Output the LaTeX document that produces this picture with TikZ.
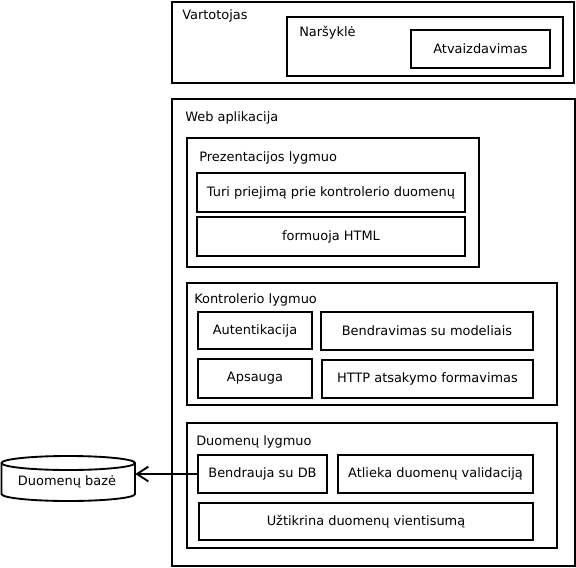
\documentclass[tikz,border=0pt]{standalone}
\usepackage{fontspec}
\setmainfont{DejaVu Sans}
\usetikzlibrary{fit,arrows.meta}
\begin{document}
\begin{tikzpicture}[x=0.75pt,y=-0.75pt,
  every node/.style={font=\fontsize{9.7}{11}\selectfont, inner sep=0pt},
  frame/.style={draw, line width=1.4pt, inner sep=0pt},
  cell/.style={frame, label={center:#1}},
  caption/.style={anchor=west},
  link/.style={line width=1.4pt, -{Straight Barb[length=8.5pt,width=11pt]}}]
\useasboundingbox (0,0) rectangle (576,568);

% user side
\node[frame, fit={(172,2)(574,83)}] (user) {};
\node[caption] (userlbl) at (182,16) {Vartotojas};
\node[frame, fit={(287,17)(563,76)}] (browser) {};
\node[caption] (browserlbl) at (299,33) {Naršyklė};
\node[cell=Atvaizdavimas, fit={(411,30)(550,68)}] (render) {};

% web application
\node[frame, fit={(172,99)(575,566)}] (webapp) {};
\node[caption] (webapplbl) at (185,118) {Web aplikacija};

% presentation layer
\node[frame, fit={(187,138)(479,267)}] (pres) {};
\node[caption] (preslbl) at (199,158) {Prezentacijos lygmuo};
\node[cell={Turi priejimą prie kontrolerio duomenų}, fit={(197,173)(465,212)}] (access) {};
\node[cell={formuoja HTML}, fit={(197,217)(465,256)}] (html) {};

% controller layer
\node[frame, fit={(187,283)(557,405)}] (ctrl) {};
\node[caption] (ctrllbl) at (194,300) {Kontrolerio lygmuo};
\node[cell=Autentikacija, fit={(198,312)(312,349)}] (auth) {};
\node[cell={Bendravimas su modeliais}, fit={(321,312)(533,350)}] (models) {};
\node[cell=Apsauga, fit={(198,359)(312,398)}] (secure) {};
\node[cell={HTTP atsakymo formavimas}, fit={(322,360)(533,398)}] (http) {};

% data layer
\node[frame, fit={(187,423)(557,548)}] (data) {};
\node[caption] (datalbl) at (196,442) {Duomenų lygmuo};
\node[cell={Bendrauja su DB}, fit={(198,455)(327,493)}] (dbcomm) {};
\node[cell={Atlieka duomenų validaciją}, fit={(338,455)(533,493)}] (valid) {};
\node[cell={Užtikrina duomenų vientisumą}, fit={(199,503)(533,540)}] (integrity) {};

% database cylinder
\node[minimum width=133.5*0.75pt, minimum height=31*0.75pt] (db) at (68.25,478.5) {};
\draw[line width=1.4pt] (1.5,463) -- (1.5,494) arc(180:0:66.75 and 7) -- (135,463) arc(0:-180:66.75 and 7) -- cycle;
\draw[line width=1.4pt] (1.5,463) arc(180:0:66.75 and 7);
\node (dblbl) at (67,482) {Duomenų bazė};

% connector
\draw[link] (dbcomm.west) -- (dbcomm.west -| db.east);
\end{tikzpicture}
\end{document}
